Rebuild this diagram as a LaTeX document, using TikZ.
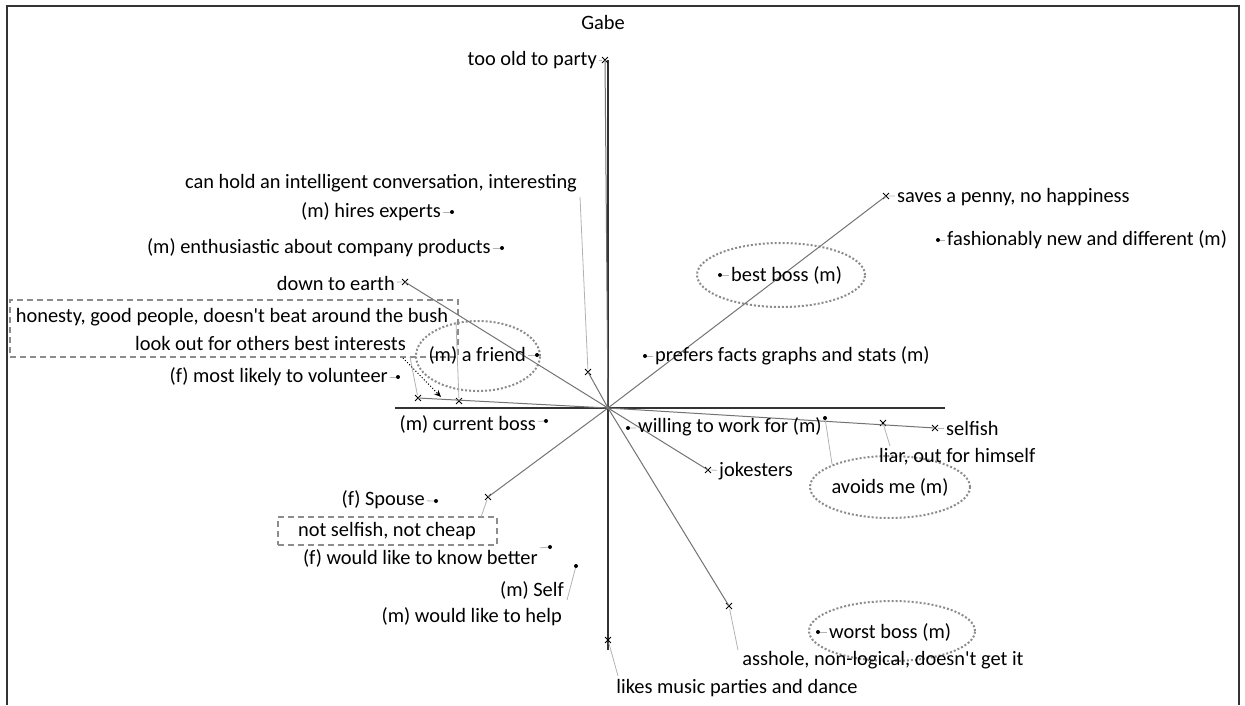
\documentclass[tikz,border=0pt]{standalone}
\usepackage{fontspec}
\setmainfont{Carlito}[Ligatures=TeXOff]
\usetikzlibrary{shapes.geometric,shapes.misc,arrows.meta}
\begin{document}
\begin{tikzpicture}[x=1pt,y=-1pt,
  every node/.style={font=\fontsize{20.4}{24}\selectfont, inner sep=1pt},
  lbl/.style={inner sep=2pt},
  xm/.style={cross out, draw=black, line width=0.9pt, minimum size=5pt, inner sep=0pt},
  dm/.style={circle, fill=black, minimum size=4pt, inner sep=0pt},
  axis/.style={draw=black!80, line width=1.4pt},
  ray/.style={draw=black!55, line width=1pt},
  lead/.style={draw=black!30, line width=0.8pt},
  ring/.style={ellipse, draw=black!45, line width=2pt, dotted},
  dbox/.style={rectangle, draw=black!45, line width=2pt, dash pattern=on 6pt off 4pt, inner sep=0pt},
  frame/.style={draw=black!80, line width=1.8pt}
]
\useasboundingbox (0,0) rectangle (1245,705);
% frame
\coordinate (fa) at (7,705);
\coordinate (fb) at (7,6);
\coordinate (fc) at (1239,6);
\coordinate (fd) at (1239,705);
\draw[frame] (fa) -- (fb) -- (fc) -- (fd);

% origin and axes
\coordinate (O) at (608,408);
\coordinate (axT) at (608,60);
\coordinate (axB) at (608,650);
\coordinate (axL) at (395,408);
\coordinate (axR) at (945,408);
\draw[axis] (axT) -- (axB);
\draw[axis] (axL) -- (axR);

% ellipses and dashed boxes
\node[ring, minimum width=124pt, minimum height=70pt] (eFriend) at (478,356) {};
\node[ring, minimum width=168pt, minimum height=64pt] (eBest) at (781,275) {};
\node[ring, minimum width=160pt, minimum height=62pt] (eAvoids) at (890,487) {};
\node[ring, minimum width=166pt, minimum height=60pt] (eWorst) at (892,631) {};
\node[dbox, minimum width=448pt, minimum height=57pt] (box1) at (234,328.5) {};
\node[dbox, minimum width=219pt, minimum height=28pt] (box2) at (387.5,531) {};

% x markers
\node[xm] (xTooOld) at (605,60) {};
\node[xm] (xSaves) at (886,196) {};
\node[xm] (xDown) at (405,282) {};
\node[xm] (xConv) at (588,372) {};
\node[xm] (xL1) at (418,398) {};
\node[xm] (xL2) at (459,401) {};
\node[xm] (xSelfish) at (935,428) {};
\node[xm] (xLiar) at (883,423) {};
\node[xm] (xJoke) at (708,470) {};
\node[xm] (xSpouse) at (488,497) {};
\node[xm] (xAss) at (729,606) {};
\node[xm] (xMusic) at (608,640) {};

% dot markers
\node[dm] (dHires) at (452,212) {};
\node[dm] (dEnth) at (502,248) {};
\node[dm] (dFashion) at (938,240) {};
\node[dm] (dBest) at (720,275) {};
\node[dm] (dFriend) at (537,355) {};
\node[dm] (dPrefers) at (645,356) {};
\node[dm] (dVolunteer) at (398,377) {};
\node[dm] (dCurrent) at (546,421) {};
\node[dm] (dWilling) at (628,428) {};
\node[dm] (dAvoids) at (825,418) {};
\node[dm] (dSpouse) at (436,501) {};
\node[dm] (dKnow) at (550,547) {};
\node[dm] (dSelf) at (576,566) {};
\node[dm] (dWorst) at (818,632) {};

% rays from origin
\foreach \p in {xTooOld,xSaves,xDown,xConv,xL1,xSelfish,xJoke,xSpouse,xAss}
  \draw[ray] (O) -- (\p.center);

% labels
\node[lbl] (tGabe) at (603,22) {Gabe};
\node[lbl, anchor=east] (tTooOld) at (599,60) {too old to party};
\node[lbl] (tConv) at (381,183) {can hold an intelligent conversation, interesting};
\node[lbl, anchor=east] (tHires) at (443,212) {(m) hires experts};
\node[lbl, anchor=east] (tEnth) at (493,248) {(m) enthusiastic about company products};
\node[lbl, anchor=east] (tDown) at (397,283) {down to earth};
\node[lbl] (tHonest) at (232,317) {honesty, good people, doesn't beat around the bush};
\node[lbl, anchor=east] (tLook) at (408,343) {look out for others best interests};
\node[lbl, anchor=east] (tVolunteer) at (390,377) {(f) most likely to volunteer};
\node[lbl, anchor=east] (tFriend) at (528,355) {(m) a friend};
\node[lbl, anchor=east] (tCurrent) at (538,424) {(m) current boss};
\node[lbl, anchor=west] (tSaves) at (895,197) {saves a penny, no happiness};
\node[lbl, anchor=west] (tFashion) at (945,240) {fashionably new and different (m)};
\node[lbl, anchor=west] (tBest) at (729,275) {best boss (m)};
\node[lbl, anchor=west] (tPrefers) at (653,356) {prefers facts graphs and stats (m)};
\node[lbl, anchor=west] (tWilling) at (636,427) {willing to work for (m)};
\node[lbl, anchor=west] (tSelfish) at (944,428) {selfish};
\node[lbl, anchor=west] (tLiar) at (877,457) {liar, out for himself};
\node[lbl, anchor=west] (tJoke) at (717,471) {jokesters};
\node[lbl] (tAvoids) at (890,487) {avoids me (m)};
\node[lbl, anchor=east] (tSpouse) at (427,500) {(f) Spouse};
\node[lbl] (tCheap) at (387,531) {not selfish, not cheap};
\node[lbl, anchor=east] (tKnow) at (540,558) {(f) would like to know better};
\node[lbl, anchor=east] (tSelf) at (566,590) {(m) Self};
\node[lbl, anchor=east] (tHelp) at (564,617) {(m) would like to help};
\node[lbl, anchor=west] (tWorst) at (827,632) {worst boss (m)};
\node[lbl] (tAss) at (883,660) {asshole, non-logical, doesn't get it};
\node[lbl] (tMusic) at (737,688) {likes music parties and dance};

% short leaders label -> marker
\foreach \a/\b in {tTooOld/xTooOld,tHires/dHires,tEnth/dEnth,tDown/xDown,tVolunteer/dVolunteer,
  tFriend/dFriend,tCurrent/dCurrent,tSaves/xSaves,tFashion/dFashion,tBest/dBest,tPrefers/dPrefers,
  tWilling/dWilling,tSelfish/xSelfish,tJoke/xJoke,tSpouse/dSpouse,tKnow/dKnow,tWorst/dWorst}
  \draw[lead] (\a) -- (\b);

% longer leaders
\coordinate (cConv) at (580,197);
\draw[lead] (cConv) -- (xConv);
\coordinate (cL1) at (410,357);
\draw[lead] (cL1) -- (xL1);
\coordinate (cL2) at (456,322);
\draw[lead] (cL2) -- (xL2);
\coordinate (cSp) at (481,517);
\draw[lead] (xSpouse) -- (cSp);
\coordinate (cSelf) at (567,600);
\draw[lead] (cSelf) -- (dSelf);
\coordinate (cAv) at (832,464);
\draw[lead] (dAvoids) -- (cAv);
\coordinate (cLiar) at (890,446);
\draw[lead] (xLiar) -- (cLiar);
\coordinate (cAss) at (738,650);
\draw[lead] (xAss) -- (cAss);
\coordinate (cMus) at (618,676);
\draw[lead] (xMusic) -- (cMus);

% dotted arrow
\coordinate (arS) at (403,358);
\coordinate (arE) at (441,397);
\draw[black, line width=1pt, dotted, -{Stealth[length=7pt,width=6pt]}] (arS) -- (arE);
\end{tikzpicture}
\end{document}
